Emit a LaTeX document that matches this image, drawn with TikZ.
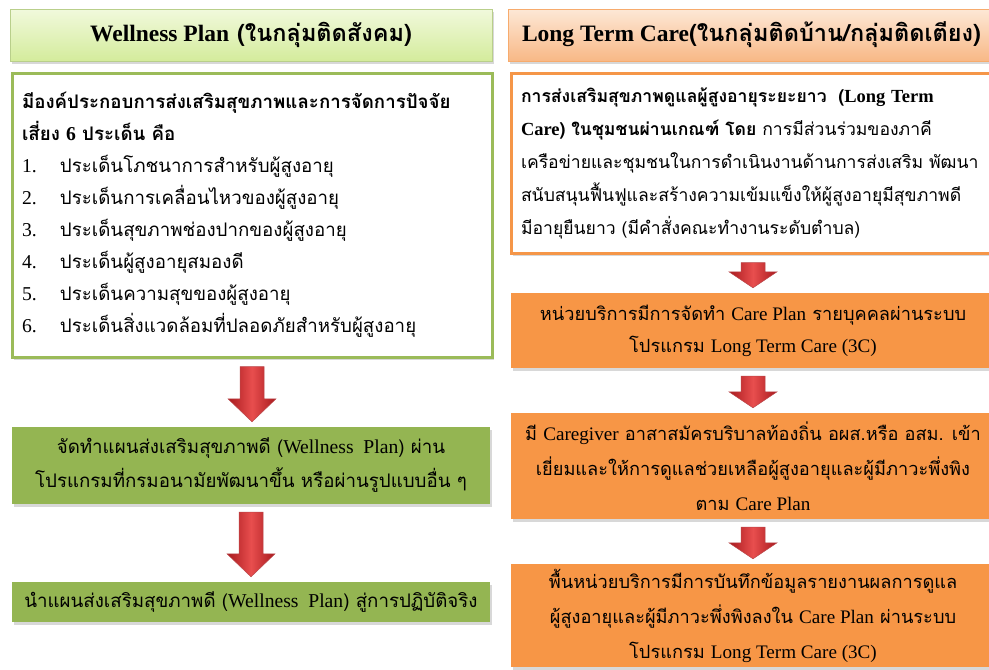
\documentclass[tikz,border=0pt]{standalone}
\usepackage{fontspec}
\setmainfont[Script=Thai]{Loma}
\newfontfamily\latfont[Scale=1.05]{Liberation Serif}
\newfontfamily\hdrlatfont{Liberation Serif}
\usetikzlibrary{calc,shadows}

\definecolor{greenline}{RGB}{155,187,89}
\definecolor{greenfill}{RGB}{148,181,82}
\definecolor{greentop}{RGB}{241,249,220}
\definecolor{greenbot}{RGB}{212,236,156}
\definecolor{orangeline}{RGB}{245,150,72}
\definecolor{orangefill}{RGB}{247,150,70}
\definecolor{orangetop}{RGB}{253,232,214}
\definecolor{orangebot}{RGB}{248,184,134}
\definecolor{arrowred}{RGB}{232,78,78}
\definecolor{arrowdark}{RGB}{168,26,30}

\newcommand{\lat}[1]{{\latfont #1}}
\newcommand{\hlat}[1]{{\hdrlatfont #1}}
\newcommand{\itemno}[1]{\makebox[38pt][l]{\lat{#1}}}
% block arrow from one box down to the next
\newcommand{\blockarrow}[3]{%
  \shadedraw[redarrow] let \p1=($(#1.south)+(0,8)$), \p2=($(#2.north)+(0,-5)$) in
    (\x1-12pt,\y1) -- (\x1+12pt,\y1) -- (\x1+12pt,\y2+#3) -- (\x1+24pt,\y2+#3)
    -- (\x1,\y2) -- (\x1-24pt,\y2+#3) -- (\x1-12pt,\y2+#3) -- cycle;}

\tikzset{
  box/.style={rectangle, inner sep=0pt, align=center,
    drop shadow={shadow xshift=1.5pt, shadow yshift=-2.5pt, opacity=.3}},
  hdrgreen/.style={box, top color=greentop, bottom color=greenbot,
    draw=greenline!70, line width=.6pt, font=\fontsize{23.5}{27}\selectfont\bfseries},
  hdrorange/.style={box, top color=orangetop, bottom color=orangebot,
    draw=orangeline!80, line width=.6pt, font=\fontsize{23.5}{27}\selectfont\bfseries},
  listgreen/.style={box, fill=white, draw=greenline, line width=3pt, align=left},
  listorange/.style={box, fill=white, draw=orangeline, line width=3pt, align=left},
  stepgreen/.style={box, fill=greenfill},
  steporange/.style={box, fill=orangefill},
  redarrow/.style={left color=arrowdark, right color=arrowdark, middle color=arrowred,
    draw=arrowdark!80, line width=.5pt}
}

\begin{document}
\begin{tikzpicture}[x=1pt,y=-1pt]
\useasboundingbox (0,0) rectangle (989,670);
\clip (0,0) rectangle (989,670);
\fill[white] (0,0) rectangle (989,670);

% Wellness Plan column
\node[hdrgreen, minimum width=482pt, minimum height=52pt] (hdrW) at (251,35)
  {\hlat{Wellness Plan} (ในกลุ่มติดสังคม)};
\node[listgreen, minimum width=480pt, minimum height=284pt, text width=460pt,
  font=\fontsize{18.7}{32}\selectfont] (listW) at (252,215)
  {\textbf{มีองค์ประกอบการส่งเสริมสุขภาพและการจัดการปัจจัย}\\
   \textbf{เสี่ยง \lat{6} ประเด็น คือ}\\
   \itemno{1.}ประเด็นโภชนาการสำหรับผู้สูงอายุ\\
   \itemno{2.}ประเด็นการเคลื่อนไหวของผู้สูงอายุ\\
   \itemno{3.}ประเด็นสุขภาพช่องปากของผู้สูงอายุ\\
   \itemno{4.}ประเด็นผู้สูงอายุสมองดี\\
   \itemno{5.}ประเด็นความสุขของผู้สูงอายุ\\
   \itemno{6.}ประเด็นสิ่งแวดล้อมที่ปลอดภัยสำหรับผู้สูงอายุ};
\node[stepgreen, minimum width=478pt, minimum height=77pt,
  font=\fontsize{18.7}{34}\selectfont] (planW) at (251,465.5)
  {จัดทำแผนส่งเสริมสุขภาพดี (\lat{Wellness\ \ Plan}) ผ่าน\\
   โปรแกรมที่กรมอนามัยพัฒนาขึ้น หรือผ่านรูปแบบอื่น ๆ};
\node[stepgreen, minimum width=478pt, minimum height=40pt,
  font=\fontsize{18.7}{34}\selectfont] (actW) at (251,602)
  {นำแผนส่งเสริมสุขภาพดี (\lat{Wellness\ \ Plan}) สู่การปฏิบัติจริง};

% Long Term Care column
\node[hdrorange, minimum width=487pt, minimum height=52pt] (hdrL) at (751.5,35)
  {\hlat{Long Term Care}(ในกลุ่มติดบ้าน/กลุ่มติดเตียง)};
\node[listorange, minimum width=484pt, minimum height=180pt, text width=464pt,
  font=\fontsize{17.6}{33}\selectfont] (ltcL) at (753,163)
  {\textbf{การส่งเสริมสุขภาพดูแลผู้สูงอายุระยะยาว\ \ (\lat{Long Term}}\\
   \textbf{\lat{Care}) ในชุมชนผ่านเกณฑ์ โดย} การมีส่วนร่วมของภาคี\\
   \mbox{เครือข่ายและชุมชนในการดำเนินงานด้านการส่งเสริม พัฒนา}\\
   \mbox{สนับสนุนฟื้นฟูและสร้างความเข้มแข็งให้ผู้สูงอายุมีสุขภาพดี}\\
   มีอายุยืนยาว (มีคำสั่งคณะทำงานระดับตำบล)};
\node[steporange, minimum width=484pt, minimum height=75pt,
  font=\fontsize{18.2}{32}\selectfont] (planL) at (753,330.5)
  {หน่วยบริการมีการจัดทำ \lat{Care Plan} รายบุคคลผ่านระบบ\\
   โปรแกรม \lat{Long Term Care (3C)}};
\node[steporange, minimum width=484pt, minimum height=106pt,
  font=\fontsize{18.2}{35}\selectfont] (giverL) at (753,466)
  {มี \lat{Caregiver} อาสาสมัครบริบาลท้องถิ่น อผส.หรือ อสม. เข้า\\
   เยี่ยมและให้การดูแลช่วยเหลือผู้สูงอายุและผู้มีภาวะพึ่งพิง\\
   ตาม \lat{Care Plan}};
\node[steporange, minimum width=484pt, minimum height=103pt,
  font=\fontsize{18.2}{35}\selectfont] (recL) at (753,615.5)
  {พื้นหน่วยบริการมีการบันทึกข้อมูลรายงานผลการดูแล\\
   ผู้สูงอายุและผู้มีภาวะพึ่งพิงลงใน \lat{Care Plan} ผ่านระบบ\\
   โปรแกรม \lat{Long Term Care (3C)}};

% arrows
\blockarrow{listW}{planW}{23pt}
\blockarrow{planW}{actW}{23pt}
\blockarrow{ltcL}{planL}{16pt}
\blockarrow{planL}{giverL}{16pt}
\blockarrow{giverL}{recL}{16pt}
\end{tikzpicture}
\end{document}
